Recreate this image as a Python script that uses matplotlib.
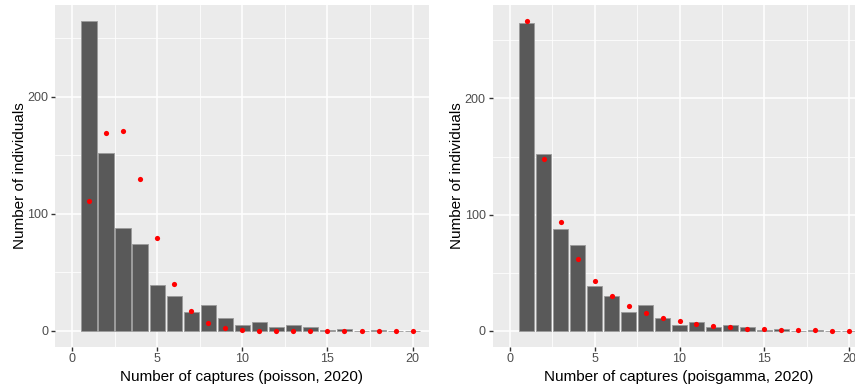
import matplotlib
matplotlib.use("Agg")
import matplotlib.pyplot as plt
import numpy as np

plt.rcParams['font.family'] = ['Liberation Sans', 'DejaVu Sans']

captures = list(range(1, 21))
observed = [265, 152, 88, 74, 39, 30, 16, 22, 11, 5, 8, 3, 5, 3, 1, 2, 0, 1, 0, 0]
expected_poisson = [111, 169, 171, 130, 79, 40, 17, 6.6, 2.2, 0.7, 0.2, 0.05,
                    0, 0, 0, 0, 0, 0, 0, 0]
expected_poisgamma = [267, 148, 93.4, 62.3, 42.8, 30.4, 21.4, 15.8, 11.0, 8.3,
                      6.3, 4.3, 3.3, 2.0, 1.3, 1.1, 0.6, 0.5, 0.2, 0.2]
xlabels = ["Number of captures (poisson, 2020)",
           "Number of captures (poisgamma, 2020)"]
ylabel = "Number of individuals"

W, H = 855, 389
fig = plt.figure(figsize=(W / 100, H / 100), dpi=100)

def px_axes(left, right, top, bottom):
    return fig.add_axes([left / W, 1 - bottom / H, (right - left) / W, (bottom - top) / H])

panels = [
    (px_axes(55, 428.6, 5.0, 346.5), expected_poisson, xlabels[0], (-13.25, 278.25), 0),
    (px_axes(492.7, 865.3, 5.0, 346.5), expected_poisgamma, xlabels[1], (-13.35, 280.35), 0.8),
]

grey30 = '#4D4D4D'
for ax, exp, xl, ylim, lp in panels:
    ax.set_facecolor('#EBEBEB')
    for s in ax.spines.values():
        s.set_visible(False)
    ax.set_xlim(-1.0, 20.94)
    ax.set_ylim(*ylim)
    ax.set_xticks([0, 5, 10, 15, 20])
    ax.set_yticks([0, 100, 200])
    ax.set_xticks([2.5, 7.5, 12.5, 17.5], minor=True)
    ax.set_yticks([50, 150, 250], minor=True)
    ax.grid(True, which='major', color='white', linewidth=1.1)
    ax.grid(True, which='minor', color='white', linewidth=0.55)
    ax.set_axisbelow(True)
    ax.tick_params(which='major', length=3, width=1.0, color='#333333',
                   labelcolor=grey30, labelsize=9, pad=2)
    ax.tick_params(which='minor', length=0)
    ax.bar(captures, observed, width=0.9, color='#595959',
           edgecolor='#9a9a9a', linewidth=0.6, zorder=2)
    ax.scatter(captures, exp, s=14, color='red', linewidths=0, zorder=3)
    ax.set_xlabel(xl, fontsize=11, color='black', labelpad=3)
    ax.set_ylabel(ylabel, fontsize=11, color='black', labelpad=lp)

fig.savefig("out.png", dpi=100)
